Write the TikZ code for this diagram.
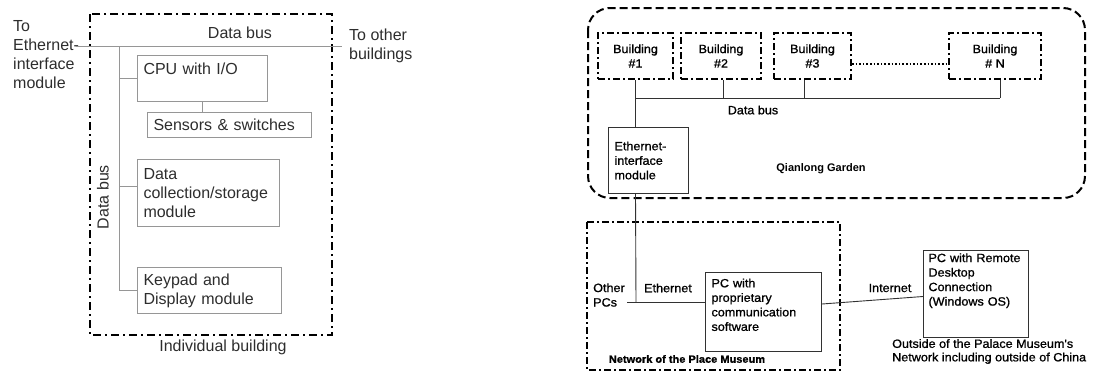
\documentclass[tikz,border=0pt]{standalone}
\usepackage{fontspec}
\setmainfont{Liberation Sans}
\newfontfamily\rgtfamily[FakeStretch=1.05, FakeBold=1]{Liberation Sans}
\usepackage{xcolor}
\usepackage{tikz}
\definecolor{colBox}{RGB}{150,150,150}
\definecolor{colTxt}{RGB}{45,45,45}
\definecolor{colLine}{RGB}{50,50,50}
\newcommand{\lftsize}{\fontsize{16}{19}\selectfont}
\newcommand{\rgtsize}{\rgtfamily\fontsize{12}{14.5}\selectfont}

\begin{document}
\begin{tikzpicture}[x=1pt, y=-1pt,
    bus/.style={draw=colBox, line width=1pt},
    rline/.style={draw=colLine, line width=0.9pt},
    dashdot/.style={draw=black, line width=1.7pt,
        dash pattern=on 8pt off 4pt on 2pt off 4pt},
    lbox/.style={draw=colBox, line width=1pt, anchor=north west,
        align=left, inner xsep=6pt, inner ysep=0pt,
        text=colTxt, font=\lftsize},
    rbox/.style={draw=colLine, line width=1pt, anchor=north west,
        align=left, inner xsep=6pt, inner ysep=0pt, font=\rgtsize},
    bldg/.style={draw=black, line width=2pt,
        dash pattern=on 7pt off 3pt on 2pt off 3pt,
        anchor=north west, align=center, inner sep=0pt,
        minimum height=46pt, font=\rgtsize}]

\useasboundingbox (0,0) rectangle (1114,372);

% Bâtiment individuel
\draw[dashdot] (90,14) rectangle (332,335);
\node[font=\lftsize, text=colTxt] (indiv) at (223,347) {Individual building};

% Bus horizontal
\node[anchor=west, align=left, inner sep=0pt, font=\lftsize, text=colTxt]
    (toeth) at (13,55) {To\\Ethernet-\\interface\\module};
\node[anchor=west, align=left, inner sep=0pt, font=\lftsize, text=colTxt]
    (toother) at (349,46) {To other\\buildings};
\coordinate (busL) at (76,46);
\coordinate (busR) at (342,46);
\draw[bus] (busL) -- (busR);
\node[font=\lftsize, text=colTxt] (hbuslbl) at (240,33) {Data bus};

% Modules
\node[lbox, minimum width=130pt, minimum height=46pt, text width=118pt]
    (cpu) at (137,55) {CPU with I/O\\ \mbox{}};
\node[lbox, minimum width=164pt, minimum height=25pt, text width=152pt]
    (sens) at (147,112) {Sensors \& switches};
\node[lbox, minimum width=142pt, minimum height=67pt, text width=130pt]
    (dcm) at (137,159) {Data\\collection/storage\\module};
\node[lbox, minimum width=144pt, minimum height=46pt, text width=132pt]
    (kdm) at (137,267) {Keypad and\\Display module};

% Bus vertical
\coordinate (vtop) at (119,46);
\coordinate (vbot) at (119,290);
\path ([yshift=7pt]dcm.west) coordinate (dcmW);
\draw[bus] (vtop) -- (vbot);
\draw[bus] (vtop |- cpu.west) -- (cpu.west);
\draw[bus] (vtop |- dcmW) -- (dcmW);
\draw[bus] (vtop |- kdm.west) -- (kdm.west);
\draw[bus] (cpu.south) -- (cpu.south |- sens.north);
\node[rotate=90, font=\lftsize, text=colTxt] (vbuslbl) at (103,197) {Data bus};

% Jardin Qianlong
\draw[draw=black, line width=2pt, dash pattern=on 8pt off 4pt,
    rounded corners=22pt] (588,8) rectangle (1085,198);
\node[font=\bfseries\fontsize{11}{13}\selectfont]
    (garden) at (821,169) {Qianlong Garden};

% Bâtiments
\foreach \n/\x/\w/\lab in {1/597/75/\#1, 2/680/80/\#2, 3/773/77/\#3, N/948/92/\# N} {
    \node[bldg, minimum width=\w pt] (b\n) at (\x,32) {Building\\\lab};
}
\draw[line width=1.6pt, dash pattern=on 1.6pt off 2pt]
    ([yshift=-8pt]b3.east) -- ([yshift=-8pt]bN.west);

% Bus de données
\coordinate (rbus) at (0,98);
\foreach \n/\dx in {1/0, 2/2, 3/-8.5, N/5} {
    \path ([xshift=\dx pt]b\n.south) coordinate (d\n);
}
\node[rbox, minimum width=80pt, minimum height=66pt, text width=68pt]
    (eim) at (608,127) {Ethernet-\\interface\\module};
\draw[rline] (d1) -- (d1 |- eim.north);
\foreach \n in {2,3,N} {
    \draw[rline] (d\n) -- (d\n |- rbus);
}
\draw[rline] (d1 |- rbus) -- (dN |- rbus);
\node[font=\rgtsize] (rbuslbl) at (753,110) {Data bus};

% Réseau du musée
\draw[draw=black, line width=2pt, dash pattern=on 7pt off 3pt on 2pt off 3pt]
    (587,222) rectangle (840,370);
\node[rbox, minimum width=116pt, minimum height=79pt, text width=104pt]
    (pc) at (705,272) {PC with\\proprietary\\communication\\software\\ \mbox{}};
\coordinate (ethJ) at (636,302.5);
\coordinate (othR) at (627,302.5);
\draw[rline] (d1 |- eim.south) -- (ethJ);
\draw[rline] (othR) -- (pc.west |- othR);
\node[anchor=west, align=left, inner sep=0pt, font=\rgtsize]
    (other) at (593,295) {Other\\PCs};
\node[font=\rgtsize] (ethlbl) at (668,288) {Ethernet};
\node[font=\rgtfamily\bfseries\fontsize{10.5}{13}\selectfont]
    (netlbl) at (687,359) {Network of the Place Museum};

% PC distant
\node[rbox, inner xsep=5pt, minimum width=105pt, minimum height=87pt, text width=95pt]
    (rem) at (923,250) {PC with Remote\\Desktop\\Connection\\(Windows OS)\\ \mbox{}\\ \mbox{}};
\draw[rline] ([yshift=8pt]pc.east) -- ([yshift=-2.5pt]rem.west);
\node[font=\rgtsize] (inet) at (890,288) {Internet};
\node[anchor=west, align=left, inner sep=0pt, font=\rgtfamily\fontsize{12}{13.5}\selectfont]
    (outlbl) at (892,351.5) {Outside of the Palace Museum's\\Network including outside of China};

\end{tikzpicture}
\end{document}
